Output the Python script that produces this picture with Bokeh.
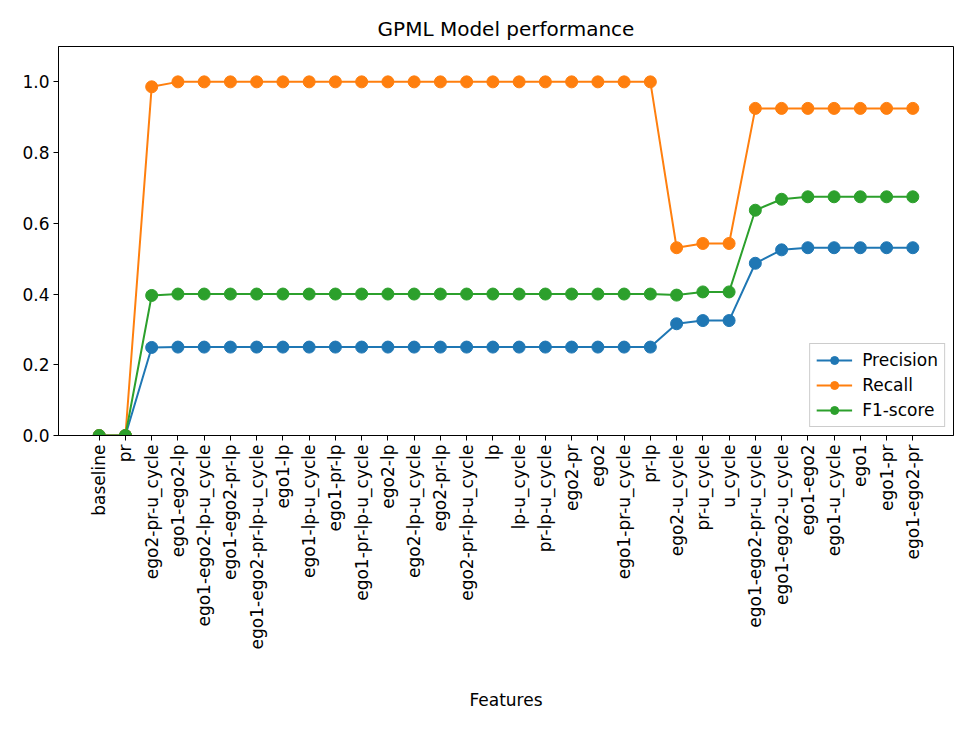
import math
from bokeh.plotting import figure
from bokeh.models import Range1d, FixedTicker, Legend, LegendItem, ColumnDataSource, PrintfTickFormatter
from bokeh.embed import file_html
from bokeh.resources import INLINE

features = ["baseline", "pr", "ego2-pr-u_cycle", "ego1-ego2-lp", "ego1-ego2-lp-u_cycle",
            "ego1-ego2-pr-lp", "ego1-ego2-pr-lp-u_cycle", "ego1-lp", "ego1-lp-u_cycle",
            "ego1-pr-lp", "ego1-pr-lp-u_cycle", "ego2-lp", "ego2-lp-u_cycle", "ego2-pr-lp",
            "ego2-pr-lp-u_cycle", "lp", "lp-u_cycle", "pr-lp-u_cycle", "ego2-pr", "ego2",
            "ego1-pr-u_cycle", "pr-lp", "ego2-u_cycle", "pr-u_cycle", "u_cycle",
            "ego1-ego2-pr-u_cycle", "ego1-ego2-u_cycle", "ego1-ego2", "ego1-u_cycle",
            "ego1", "ego1-pr", "ego1-ego2-pr"]

precision = [0.0, 0.0, 0.249, 0.25, 0.25, 0.25, 0.25, 0.25, 0.25, 0.25, 0.25, 0.25, 0.25,
             0.25, 0.25, 0.25, 0.25, 0.25, 0.25, 0.25, 0.25, 0.25, 0.316, 0.325, 0.325,
             0.487, 0.525, 0.531, 0.531, 0.531, 0.531, 0.531]
recall = [0.0, 0.0, 0.986, 1.0, 1.0, 1.0, 1.0, 1.0, 1.0, 1.0, 1.0, 1.0, 1.0, 1.0, 1.0,
          1.0, 1.0, 1.0, 1.0, 1.0, 1.0, 1.0, 0.531, 0.543, 0.543, 0.925, 0.925, 0.925,
          0.925, 0.925, 0.925, 0.925]
f1 = [0.0, 0.0, 0.396, 0.4, 0.4, 0.4, 0.4, 0.4, 0.4, 0.4, 0.4, 0.4, 0.4, 0.4, 0.4, 0.4,
      0.4, 0.4, 0.4, 0.4, 0.4, 0.4, 0.397, 0.406, 0.406, 0.637, 0.668, 0.675, 0.675,
      0.675, 0.675, 0.675]

series = [("Precision", precision, "#1f77b4"),
          ("Recall", recall, "#ff7f0e"),
          ("F1-score", f1, "#2ca02c")]

x = list(range(len(features)))
n = len(features)
pad = (n - 1) * 0.05

FONT = "DejaVu Sans"
FS = "17px"

p = figure(width=968, height=722, output_backend="svg", toolbar_location=None,
           x_range=Range1d(-pad, n - 1 + pad), y_range=Range1d(0, 1.1),
           title="GPML Model performance",
           min_border_left=58, min_border_right=15, min_border_top=46, min_border_bottom=287)

p.title.align = "center"
p.title.text_font = FONT
p.title.text_font_size = "20px"
p.title.text_font_style = "normal"
p.title.text_color = "black"
p.title.offset = 0
p.title.standoff = 12

p.xgrid.visible = False
p.ygrid.visible = False
p.outline_line_color = "black"
p.outline_line_width = 1

p.xaxis.ticker = FixedTicker(ticks=x)
p.xaxis.major_label_overrides = {i: f for i, f in enumerate(features)}
p.xaxis.major_label_orientation = math.pi / 2
p.yaxis.ticker = FixedTicker(ticks=[0.0, 0.2, 0.4, 0.6, 0.8, 1.0])
p.yaxis.formatter = PrintfTickFormatter(format="%.1f")

for ax in (p.xaxis, p.yaxis):
    ax.major_label_text_font = FONT
    ax.major_label_text_font_size = FS
    ax.major_label_text_color = "black"
    ax.axis_line_color = "black"
    ax.major_tick_line_color = "black"
    ax.minor_tick_line_color = None
    ax.major_tick_out = 5
    ax.major_tick_in = 0
    ax.major_label_standoff = 4

p.xaxis.axis_label = "Features"
p.xaxis.axis_label_text_font = FONT
p.xaxis.axis_label_text_font_size = FS
p.xaxis.axis_label_text_font_style = "normal"
p.xaxis.axis_label_text_color = "black"
p.xaxis.axis_label_standoff = 38

items = []
for name, vals, color in series:
    src = ColumnDataSource(dict(x=x, y=vals))
    l = p.line("x", "y", source=src, line_color=color, line_width=2)
    c = p.scatter("x", "y", source=src, size=12, fill_color=color, line_color=color)
    items.append(LegendItem(label=name, renderers=[l, c]))

legend = Legend(items=items, location="bottom_right")
legend.label_text_font = FONT
legend.label_text_font_size = FS
legend.label_text_color = "black"
legend.border_line_color = "#cccccc"
legend.border_line_alpha = 1
legend.background_fill_alpha = 0.8
legend.padding = 6
legend.spacing = 5
legend.margin = 8
legend.glyph_width = 36
legend.label_standoff = 10
p.add_layout(legend)

open("out.html", "w").write(file_html(p, INLINE))
